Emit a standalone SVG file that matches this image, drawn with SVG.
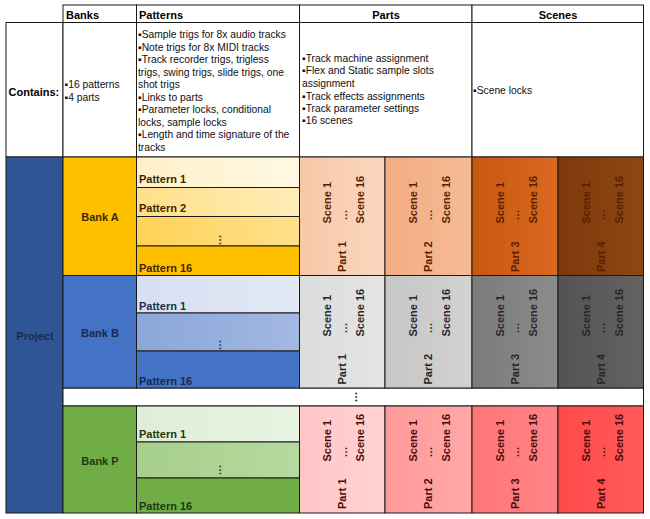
<svg xmlns="http://www.w3.org/2000/svg" width="650" height="519" viewBox="0 0 650 519">
<defs>
<linearGradient id="gA1" x1="0" y1="0" x2="1" y2="0"><stop offset="0" stop-color="#FFF0C8"/><stop offset="1" stop-color="#FFF8E4"/></linearGradient>
<linearGradient id="gA2" x1="0" y1="0" x2="1" y2="0"><stop offset="0" stop-color="#FFE089"/><stop offset="1" stop-color="#FFEDB8"/></linearGradient>
<linearGradient id="gA3" x1="0" y1="0" x2="1" y2="0"><stop offset="0" stop-color="#FFD257"/><stop offset="1" stop-color="#FFE08C"/></linearGradient>
<linearGradient id="gB1" x1="0" y1="0" x2="1" y2="0"><stop offset="0" stop-color="#D6E0F2"/><stop offset="1" stop-color="#E2E8F5"/></linearGradient>
<linearGradient id="gB2" x1="0" y1="0" x2="1" y2="0"><stop offset="0" stop-color="#8AA6DA"/><stop offset="1" stop-color="#A3B8E2"/></linearGradient>
<linearGradient id="gP1" x1="0" y1="0" x2="1" y2="0"><stop offset="0" stop-color="#DFEFD6"/><stop offset="1" stop-color="#E8F3E2"/></linearGradient>
<linearGradient id="gP2" x1="0" y1="0" x2="1" y2="0"><stop offset="0" stop-color="#A6CF8A"/><stop offset="1" stop-color="#B6D9A0"/></linearGradient>
<linearGradient id="gPa" x1="0" y1="0" x2="1" y2="0"><stop offset="0" stop-color="#F7C8A8"/><stop offset="1" stop-color="#FAD6BE"/></linearGradient>
<linearGradient id="gPb" x1="0" y1="0" x2="1" y2="0"><stop offset="0" stop-color="#F2AC80"/><stop offset="1" stop-color="#F5BC96"/></linearGradient>
<linearGradient id="gPc" x1="0" y1="0" x2="1" y2="0"><stop offset="0" stop-color="#C9580F"/><stop offset="1" stop-color="#D8691E"/></linearGradient>
<linearGradient id="gPd" x1="0" y1="0" x2="1" y2="0"><stop offset="0" stop-color="#7E390B"/><stop offset="1" stop-color="#8E4614"/></linearGradient>
<linearGradient id="gGa" x1="0" y1="0" x2="1" y2="0"><stop offset="0" stop-color="#DCDCDC"/><stop offset="1" stop-color="#E4E4E4"/></linearGradient>
<linearGradient id="gGb" x1="0" y1="0" x2="1" y2="0"><stop offset="0" stop-color="#C6C6C6"/><stop offset="1" stop-color="#D2D2D2"/></linearGradient>
<linearGradient id="gGc" x1="0" y1="0" x2="1" y2="0"><stop offset="0" stop-color="#7A7A7A"/><stop offset="1" stop-color="#8C8C8C"/></linearGradient>
<linearGradient id="gGd" x1="0" y1="0" x2="1" y2="0"><stop offset="0" stop-color="#535353"/><stop offset="1" stop-color="#636363"/></linearGradient>
<linearGradient id="gRa" x1="0" y1="0" x2="1" y2="0"><stop offset="0" stop-color="#FFC6C6"/><stop offset="1" stop-color="#FFD2D2"/></linearGradient>
<linearGradient id="gRb" x1="0" y1="0" x2="1" y2="0"><stop offset="0" stop-color="#FF9A9A"/><stop offset="1" stop-color="#FFA8A8"/></linearGradient>
<linearGradient id="gRc" x1="0" y1="0" x2="1" y2="0"><stop offset="0" stop-color="#FF7678"/><stop offset="1" stop-color="#FF8486"/></linearGradient>
<linearGradient id="gRd" x1="0" y1="0" x2="1" y2="0"><stop offset="0" stop-color="#FF4A4A"/><stop offset="1" stop-color="#FF5A5A"/></linearGradient>
</defs>
<style>
.c { stroke: #1a1a1a; stroke-width: 1; }
.b { font-family: "Liberation Sans", Arial, sans-serif; font-weight: bold; font-size: 11px; }
.t { font-family: "Liberation Sans", Arial, sans-serif; font-size: 10.3px; fill: #111; }
.h { fill: #000; }
.ca { fill: #3F2700; }
.cb { fill: #1F3050; }
.cj { fill: #172A50; }
.cp { fill: #1E3A10; }
.pa { fill: #5A1E00; }
.pg { fill: #262626; }
.pr { fill: #4A0A0A; }
.m { text-anchor: middle; }
</style>
<rect x="0" y="0" width="650" height="519" fill="#FFFFFF"/>

<!-- header -->
<g id="hdr-banks"><rect class="c" x="63" y="5" width="73.5" height="17.5" fill="#FFFFFF"/><text class="b h" x="66" y="18.5">Banks</text></g>
<g id="hdr-patterns"><rect class="c" x="136.5" y="5" width="163" height="17.5" fill="#FFFFFF"/><text class="b h" x="139" y="18.5">Patterns</text></g>
<g id="hdr-parts"><rect class="c" x="299.5" y="5" width="172.5" height="17.5" fill="#FFFFFF"/><text class="b h m" x="386" y="18.5">Parts</text></g>
<g id="hdr-scenes"><rect class="c" x="472" y="5" width="171.5" height="17.5" fill="#FFFFFF"/><text class="b h m" x="558" y="18.5">Scenes</text></g>

<!-- contains row -->
<g id="contains-label"><rect class="c" x="6" y="22.5" width="57" height="134.5" fill="#FFFFFF"/><text class="b h" x="8.5" y="95.5" font-size="11.5">Contains:</text></g>
<g id="contains-banks"><rect class="c" x="63" y="22.5" width="73.5" height="134.5" fill="#FFFFFF"/>
<text class="t" x="64.5" y="88">▪16 patterns</text><text class="t" x="64.5" y="101">▪4 parts</text></g>
<g id="contains-patterns"><rect class="c" x="136.5" y="22.5" width="163" height="134.5" fill="#FFFFFF"/>
<text class="t" x="138" y="38">▪Sample trigs for 8x audio tracks</text>
<text class="t" x="138" y="50.5">▪Note trigs for 8x MIDI tracks</text>
<text class="t" x="138" y="63">▪Track recorder trigs, trigless</text>
<text class="t" x="138" y="75.5">trigs, swing trigs, slide trigs, one</text>
<text class="t" x="138" y="88">shot trigs</text>
<text class="t" x="138" y="100.5">▪Links to parts</text>
<text class="t" x="138" y="113">▪Parameter locks, conditional</text>
<text class="t" x="138" y="125.5">locks, sample locks</text>
<text class="t" x="138" y="138">▪Length and time signature of the</text>
<text class="t" x="138" y="150.5">tracks</text></g>
<g id="contains-parts"><rect class="c" x="299.5" y="22.5" width="172.5" height="134.5" fill="#FFFFFF"/>
<text class="t" x="302" y="62">▪Track machine assignment</text>
<text class="t" x="302" y="74.4">▪Flex and Static sample slots</text>
<text class="t" x="302" y="86.8">assignment</text>
<text class="t" x="302" y="99.5">▪Track effects assignments</text>
<text class="t" x="302" y="111.8">▪Track parameter settings</text>
<text class="t" x="302" y="124.2">▪16 scenes</text></g>
<g id="contains-scenes"><rect class="c" x="472" y="22.5" width="171.5" height="134.5" fill="#FFFFFF"/>
<text class="t" x="473" y="93.5">▪Scene locks</text></g>

<!-- project -->
<g id="project"><rect class="c" x="6" y="157" width="57" height="356" fill="#2F5597"/><text class="b cj m" x="35" y="340" font-size="12">Project</text></g>

<!-- gap row -->
<g id="gap"><rect class="c" x="63" y="388" width="580.5" height="18" fill="#FFFFFF"/><text class="b h m" transform="translate(357,397) rotate(-90)">…</text></g>

<!-- Bank A -->
<g id="bank-a"><rect class="c" x="63" y="157" width="73.5" height="118.5" fill="#FFC000"/><text class="b ca m" x="100" y="221">Bank A</text></g>
<g id="a-pattern-1"><rect class="c" x="136.5" y="157" width="163" height="30.5" fill="url(#gA1)"/><text class="b ca" x="139" y="183">Pattern 1</text></g>
<g id="a-pattern-2"><rect class="c" x="136.5" y="187.5" width="163" height="29" fill="url(#gA2)"/><text class="b ca" x="139" y="212">Pattern 2</text></g>
<g id="a-pattern-dots"><rect class="c" x="136.5" y="216.5" width="163" height="29.5" fill="url(#gA3)"/><text class="b ca m" transform="translate(221,240) rotate(-90)">…</text></g>
<g id="a-pattern-16"><rect class="c" x="136.5" y="246" width="163" height="29.5" fill="#FFC000"/><text class="b ca" x="139" y="272">Pattern 16</text></g>

<!-- Bank B -->
<g id="bank-b"><rect class="c" x="63" y="275.5" width="73.5" height="112.5" fill="#4472C4"/><text class="b cj m" x="100" y="337">Bank B</text></g>
<g id="b-pattern-1"><rect class="c" x="136.5" y="275.5" width="163" height="37.5" fill="url(#gB1)"/><text class="b cb" x="139" y="309.5">Pattern 1</text></g>
<g id="b-pattern-dots"><rect class="c" x="136.5" y="313" width="163" height="38" fill="url(#gB2)"/><text class="b cb m" transform="translate(221,345) rotate(-90)">…</text></g>
<g id="b-pattern-16"><rect class="c" x="136.5" y="351" width="163" height="37" fill="#4472C4"/><text class="b cj" x="139" y="385">Pattern 16</text></g>

<!-- Bank P -->
<g id="bank-p"><rect class="c" x="63" y="406" width="73.5" height="107" fill="#70AD47"/><text class="b cp m" x="100" y="464.5">Bank P</text></g>
<g id="p-pattern-1"><rect class="c" x="136.5" y="406" width="163" height="36" fill="url(#gP1)"/><text class="b cp" x="139" y="438">Pattern 1</text></g>
<g id="p-pattern-dots"><rect class="c" x="136.5" y="442" width="163" height="36" fill="url(#gP2)"/><text class="b cp m" transform="translate(221,470) rotate(-90)">…</text></g>
<g id="p-pattern-16"><rect class="c" x="136.5" y="478" width="163" height="35" fill="#70AD47"/><text class="b cp" x="139" y="510">Pattern 16</text></g>

<!-- Parts, Bank A -->
<g id="a-part-1"><rect class="c" x="299.5" y="157" width="85.5" height="118.5" fill="url(#gPa)"/>
<text class="b pa" transform="translate(331,223.5) rotate(-90)">Scene 1</text><text class="b pa m" transform="translate(346.5,215) rotate(-90)">…</text><text class="b pa" transform="translate(364,223.5) rotate(-90)">Scene 16</text><text class="b pa" transform="translate(346,272) rotate(-90)">Part 1</text></g>
<g id="a-part-2"><rect class="c" x="385" y="157" width="87" height="118.5" fill="url(#gPb)"/>
<text class="b pa" transform="translate(416.5,223.5) rotate(-90)">Scene 1</text><text class="b pa m" transform="translate(432,215) rotate(-90)">…</text><text class="b pa" transform="translate(449.5,223.5) rotate(-90)">Scene 16</text><text class="b pa" transform="translate(431.5,272) rotate(-90)">Part 2</text></g>
<g id="a-part-3"><rect class="c" x="472" y="157" width="86" height="118.5" fill="url(#gPc)"/>
<text class="b pa" transform="translate(503.5,223.5) rotate(-90)">Scene 1</text><text class="b pa m" transform="translate(519,215) rotate(-90)">…</text><text class="b pa" transform="translate(536.5,223.5) rotate(-90)">Scene 16</text><text class="b pa" transform="translate(518.5,272) rotate(-90)">Part 3</text></g>
<g id="a-part-4"><rect class="c" x="558" y="157" width="85.5" height="118.5" fill="url(#gPd)"/>
<text class="b pa" transform="translate(589.5,223.5) rotate(-90)">Scene 1</text><text class="b pa m" transform="translate(605,215) rotate(-90)">…</text><text class="b pa" transform="translate(622.5,223.5) rotate(-90)">Scene 16</text><text class="b pa" transform="translate(604.5,272) rotate(-90)">Part 4</text></g>

<!-- Parts, Bank B -->
<g id="b-part-1"><rect class="c" x="299.5" y="275.5" width="85.5" height="112.5" fill="url(#gGa)"/>
<text class="b pg" transform="translate(331,336.5) rotate(-90)">Scene 1</text><text class="b pg m" transform="translate(346.5,328) rotate(-90)">…</text><text class="b pg" transform="translate(364,336.5) rotate(-90)">Scene 16</text><text class="b pg" transform="translate(346,384.5) rotate(-90)">Part 1</text></g>
<g id="b-part-2"><rect class="c" x="385" y="275.5" width="87" height="112.5" fill="url(#gGb)"/>
<text class="b pg" transform="translate(416.5,336.5) rotate(-90)">Scene 1</text><text class="b pg m" transform="translate(432,328) rotate(-90)">…</text><text class="b pg" transform="translate(449.5,336.5) rotate(-90)">Scene 16</text><text class="b pg" transform="translate(431.5,384.5) rotate(-90)">Part 2</text></g>
<g id="b-part-3"><rect class="c" x="472" y="275.5" width="86" height="112.5" fill="url(#gGc)"/>
<text class="b pg" transform="translate(503.5,336.5) rotate(-90)">Scene 1</text><text class="b pg m" transform="translate(519,328) rotate(-90)">…</text><text class="b pg" transform="translate(536.5,336.5) rotate(-90)">Scene 16</text><text class="b pg" transform="translate(518.5,384.5) rotate(-90)">Part 3</text></g>
<g id="b-part-4"><rect class="c" x="558" y="275.5" width="85.5" height="112.5" fill="url(#gGd)"/>
<text class="b pg" transform="translate(589.5,336.5) rotate(-90)">Scene 1</text><text class="b pg m" transform="translate(605,328) rotate(-90)">…</text><text class="b pg" transform="translate(622.5,336.5) rotate(-90)">Scene 16</text><text class="b pg" transform="translate(604.5,384.5) rotate(-90)">Part 4</text></g>

<!-- Parts, Bank P -->
<g id="p-part-1"><rect class="c" x="299.5" y="406" width="85.5" height="107" fill="url(#gRa)"/>
<text class="b pr" transform="translate(331,461.5) rotate(-90)">Scene 1</text><text class="b pr m" transform="translate(346.5,452) rotate(-90)">…</text><text class="b pr" transform="translate(364,461.5) rotate(-90)">Scene 16</text><text class="b pr" transform="translate(346,509) rotate(-90)">Part 1</text></g>
<g id="p-part-2"><rect class="c" x="385" y="406" width="87" height="107" fill="url(#gRb)"/>
<text class="b pr" transform="translate(416.5,461.5) rotate(-90)">Scene 1</text><text class="b pr m" transform="translate(432,452) rotate(-90)">…</text><text class="b pr" transform="translate(449.5,461.5) rotate(-90)">Scene 16</text><text class="b pr" transform="translate(431.5,509) rotate(-90)">Part 2</text></g>
<g id="p-part-3"><rect class="c" x="472" y="406" width="86" height="107" fill="url(#gRc)"/>
<text class="b pr" transform="translate(503.5,461.5) rotate(-90)">Scene 1</text><text class="b pr m" transform="translate(519,452) rotate(-90)">…</text><text class="b pr" transform="translate(536.5,461.5) rotate(-90)">Scene 16</text><text class="b pr" transform="translate(518.5,509) rotate(-90)">Part 3</text></g>
<g id="p-part-4"><rect class="c" x="558" y="406" width="85.5" height="107" fill="url(#gRd)"/>
<text class="b pr" transform="translate(589.5,461.5) rotate(-90)">Scene 1</text><text class="b pr m" transform="translate(605,452) rotate(-90)">…</text><text class="b pr" transform="translate(622.5,461.5) rotate(-90)">Scene 16</text><text class="b pr" transform="translate(604.5,509) rotate(-90)">Part 4</text></g>
</svg>
